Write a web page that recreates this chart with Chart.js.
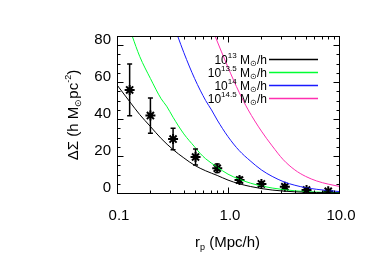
<!DOCTYPE html>
<html><head><meta charset="utf-8">
<script src="https://cdn.jsdelivr.net/npm/chart.js@4"></script>
<style>html,body{margin:0;padding:0;background:#fff}#wrap{width:374px;height:267px;position:relative}</style>
</head><body><div id="wrap"><canvas id="c" width="374" height="267"></canvas></div>
<script>
// ---- data ----
const obsR   = [0.13, 0.2, 0.32, 0.51, 0.8, 1.27, 2.0, 3.25, 5.1, 8.0];
const obsY   = [55.8, 41.9, 29.2, 19.5, 13.4, 7.0, 4.9, 3.4, 1.6, 0.9];
const obsErr = [14, 9.5, 5.8, 4.3, 2.3, 1.5, 1.2, 1.0, 0.8, 0.7];

const rM13   = [0.1, 0.13, 0.16, 0.2, 0.25, 0.32, 0.4, 0.5, 0.63, 0.8, 1.0, 1.26, 1.6, 2.0, 2.5, 3.2, 4.0, 5.0, 6.3, 8.0, 10];
const dsM13  = [58.5, 49.5, 42.5, 36, 29.5, 23.5, 19, 15, 12, 9.5, 7, 5.0, 3.5, 2.4, 1.6, 1.0, 0.65, 0.4, 0.25, 0.15, 0.1];
const rM135  = [0.137, 0.16, 0.2, 0.25, 0.28, 0.32, 0.4, 0.5, 0.56, 0.63, 0.8, 1.0, 1.26, 1.6, 2.0, 2.5, 3.2, 4.0, 5.0, 6.3, 8.0, 10];
const dsM135 = [85, 74, 62, 51, 47, 41, 32, 25, 21.5, 18.5, 14, 10.2, 7.5, 5.3, 3.8, 2.7, 1.8, 1.2, 0.8, 0.5, 0.3, 0.2];
const rM14   = [0.352, 0.4, 0.5, 0.63, 0.71, 0.8, 1.0, 1.26, 1.58, 2.0, 2.5, 3.2, 4.0, 5.0, 6.3, 8.0, 10];
const dsM14  = [85, 76, 62, 50, 45, 39.5, 30.5, 23, 17.5, 12.5, 9, 6, 4.2, 2.9, 2.0, 1.3, 0.8];
const rM145  = [0.764, 1.0, 1.26, 1.52, 2.0, 2.5, 3.15, 4.0, 5.0, 6.3, 8.0, 10];
const dsM145 = [85, 68, 54.5, 45, 33.5, 25.5, 18, 12.5, 9, 6.5, 4.8, 3.6];

const legendExps   = ['13', '13.5', '14', '14.5'];
const curveColors  = ['#000000', '#00ff33', '#1a1aff', '#ff2fb0'];
const xTickValues  = [0.1, 1, 10];
const xTickLabels  = ['0.1', '1.0', '10.0'];
const yTickValues  = [0, 20, 40, 60, 80];
const yTickLabels  = ['0', '20', '40', '60', '80'];

const pts = (xs, ys) => xs.map((x, i) => ({x: x, y: ys[i]}));
const FONT = '"Liberation Sans", Arial, Helvetica, sans-serif';

function curve(xs, ys, color) {
  return {type: 'line', data: pts(xs, ys), borderColor: color, borderWidth: 1,
    pointRadius: 0, fill: false, cubicInterpolationMode: 'monotone'};
}

const deco = {
  id: 'deco',
  afterDatasetsDraw(chart) {
    const {ctx, scales: {x, y}} = chart;
    ctx.save();
    ctx.strokeStyle = '#000'; ctx.lineWidth = 1.5;
    obsR.forEach((r, i) => {
      const px = x.getPixelForValue(r);
      const y1 = y.getPixelForValue(obsY[i] + obsErr[i]);
      const y2 = y.getPixelForValue(obsY[i] - obsErr[i]);
      ctx.beginPath();
      ctx.moveTo(px, y1); ctx.lineTo(px, y2);
      ctx.moveTo(px - 2.5, y1); ctx.lineTo(px + 2.5, y1);
      ctx.moveTo(px - 2.5, y2); ctx.lineTo(px + 2.5, y2);
      ctx.stroke();
    });
    ctx.restore();
  },
  afterDraw(chart) {
    const {ctx, chartArea: a, scales: {x, y}} = chart;
    ctx.save();
    ctx.strokeStyle = '#000'; ctx.lineWidth = 1;
    const L = Math.round(a.left) + 0.5, R = Math.round(a.right) + 0.5;
    const T = Math.round(a.top) + 0.5, B = Math.round(a.bottom) + 0.5;
    ctx.strokeRect(L, T, R - L, B - T);
    ctx.beginPath();
    // y ticks (inward, both sides)
    for (let v = 0; v <= y.max + 1e-9; v += 5) {
      const py = Math.round(y.getPixelForValue(v)) + 0.5;
      const len = yTickValues.includes(v) ? 6 : 3;
      ctx.moveTo(L, py); ctx.lineTo(L + len, py);
      ctx.moveTo(R, py); ctx.lineTo(R - len, py);
    }
    // x ticks (log)
    const xt = [];
    [0.1, 1].forEach(d => { for (let k = 1; k <= 9; k++) xt.push({v: d * k, major: k === 1}); });
    xt.push({v: 10, major: true});
    xt.forEach(t => {
      const px = Math.round(x.getPixelForValue(t.v)) + 0.5;
      const len = t.major ? 6 : 3;
      ctx.moveTo(px, B); ctx.lineTo(px, B - len);
      ctx.moveTo(px, T); ctx.lineTo(px, T + len);
    });
    ctx.stroke();

    // legend
    const xr = 267, rows = [59.5, 72.5, 85.5, 98.5];
    const big = '12px ' + FONT, small = '8px ' + FONT;
    legendExps.forEach((e, i) => {
      const segs = [
        {t: '10', f: big, dy: 0},
        {t: e, f: small, dy: -6},
        {t: ' M', f: big, dy: 0},
        {t: '\u2299', f: small, dy: 2},
        {t: '/h', f: big, dy: 0}
      ];
      let w = 0;
      segs.forEach(s => { ctx.font = s.f; s.w = ctx.measureText(s.t).width; w += s.w; });
      let cx = xr - w;
      const base = rows[i] + 4.5;
      ctx.fillStyle = '#000'; ctx.textBaseline = 'alphabetic'; ctx.textAlign = 'left';
      segs.forEach(s => { ctx.font = s.f; ctx.fillText(s.t, cx, base + s.dy); cx += s.w; });
      ctx.strokeStyle = curveColors[i]; ctx.lineWidth = 1.5;
      ctx.beginPath(); ctx.moveTo(269, rows[i]); ctx.lineTo(318, rows[i]); ctx.stroke();
    });

    // x title: r_p (Mpc/h)
    const tf = '15px ' + FONT, tfs = '9px ' + FONT;
    {
      const segs = [{t: 'r', f: tf, dy: 0}, {t: 'p', f: tfs, dy: 3}, {t: ' (Mpc/h)', f: tf, dy: 0}];
      let w = 0;
      segs.forEach(s => { ctx.font = s.f; s.w = ctx.measureText(s.t).width; w += s.w; });
      let cx = 227.5 - w / 2;
      ctx.fillStyle = '#000'; ctx.textAlign = 'left'; ctx.textBaseline = 'alphabetic';
      segs.forEach(s => { ctx.font = s.f; ctx.fillText(s.t, cx, 247 + s.dy); cx += s.w; });
    }
    // y title: ΔΣ (h M⊙pc^-2)
    {
      const segs = [
        {t: '\u0394\u03a3 (h M', f: tf, dy: 0},
        {t: '\u2299', f: tfs, dy: 3},
        {t: 'pc', f: tf, dy: 0},
        {t: '-2', f: tfs, dy: -7},
        {t: ')', f: tf, dy: 0}
      ];
      let w = 0;
      segs.forEach(s => { ctx.font = s.f; s.w = ctx.measureText(s.t).width; w += s.w; });
      ctx.translate(77.5, 115);
      ctx.rotate(-Math.PI / 2);
      let cx = -w / 2;
      ctx.fillStyle = '#000'; ctx.textAlign = 'left'; ctx.textBaseline = 'alphabetic';
      segs.forEach(s => { ctx.font = s.f; ctx.fillText(s.t, cx, s.dy); cx += s.w; });
    }
    ctx.restore();
  }
};

new Chart(document.getElementById('c'), {
  type: 'line',
  data: {
    datasets: [
      curve(rM13, dsM13, curveColors[0]),
      curve(rM135, dsM135, curveColors[1]),
      curve(rM14, dsM14, curveColors[2]),
      curve(rM145, dsM145, curveColors[3]),
      {type: 'scatter', data: pts(obsR, obsY), showLine: false, pointStyle: 'star',
        pointRadius: 5, pointBorderWidth: 2, borderColor: '#000', backgroundColor: '#000'}
    ]
  },
  options: {
    responsive: false, animation: false, devicePixelRatio: 1,
    layout: {padding: {left: 0, top: 36, right: 35, bottom: 0}},
    plugins: {legend: {display: false}, title: {display: false}, tooltip: {enabled: false}},
    scales: {
      x: {
        type: 'logarithmic', min: 0.1, max: 10,
        grid: {display: false, drawTicks: false}, border: {display: false},
        afterBuildTicks: s => { s.ticks = xTickValues.map(v => ({value: v})); },
        afterFit: s => { s.height = 74; },
        ticks: {autoSkip: false, maxRotation: 0, padding: 14, labelOffset: 2, color: '#000',
          font: {family: FONT, size: 15},
          callback: (v) => { const i = xTickValues.findIndex(t => Math.abs(t - v) < 1e-9); return i >= 0 ? xTickLabels[i] : ''; }}
      },
      y: {
        type: 'linear', min: 0, max: 85,
        grid: {display: false, drawTicks: false}, border: {display: false},
        afterBuildTicks: s => { s.ticks = yTickValues.map(v => ({value: v})); },
        afterFit: s => { s.width = 117; },
        ticks: {autoSkip: false, padding: 6, labelOffset: -5, color: '#000',
          font: {family: FONT, size: 15},
          callback: (v) => { const i = yTickValues.indexOf(v); return i >= 0 ? yTickLabels[i] : ''; }}
      }
    }
  },
  plugins: [deco]
});
</script>
</body></html>
